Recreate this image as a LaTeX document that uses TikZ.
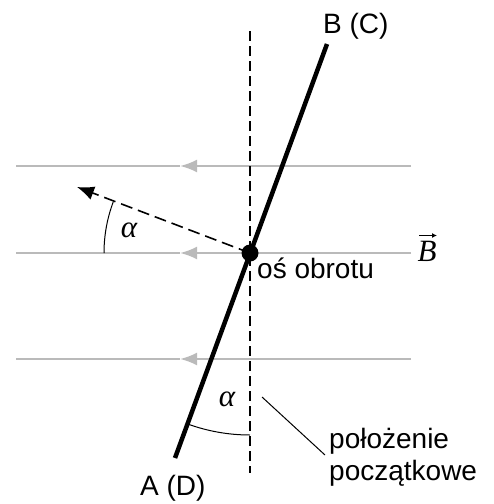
\documentclass[tikz,border=0pt]{standalone}
\usepackage{fontspec}
\setmainfont{Liberation Sans}
\newfontfamily\serifit{Liberation Serif}
\usetikzlibrary{arrows.meta}
\tikzset{
  field/.style={draw=black!27, line width=2.2pt},
  fieldtip/.style={field, -{Latex[length=17pt,width=13pt]}},
  rod/.style={line width=4.5pt},
  axisline/.style={line width=1.6pt, dash pattern=on 10pt off 5pt},
  lbl/.style={font=\fontsize{28}{32}\selectfont, inner sep=0pt},
  greek/.style={font=\fontsize{31}{34}\selectfont\serifit\itshape, inner sep=0pt},
  thin line/.style={line width=1pt}
}
\begin{document}
\begin{tikzpicture}[x=1pt,y=-1pt]
\useasboundingbox (0,0) rectangle (494,504);
% coordinates
\coordinate (O) at (250,253);
\coordinate (Btop) at (327,44);
\coordinate (Abot) at (175,458);
\coordinate (Vtop) at (250,31);
\coordinate (Vbot) at (250,473);
\coordinate (Ntip) at (77,187);
% field lines
\foreach \yy/\nm in {166/f1,253/f2,359/f3}{
  \coordinate (\nm R) at (411,\yy);
  \coordinate (\nm M) at (180,\yy);
  \coordinate (\nm L) at (16,\yy);
  \draw[field] (\nm M) -- (\nm L);
  \draw[fieldtip] (\nm R) -- (\nm M);
}
% vertical dashed initial position
\draw[axisline] (Vtop) -- (Vbot);
% rod
\draw[rod] (Abot) -- (Btop);
% dashed normal arrow
\draw[line width=1.6pt, dash pattern=on 12pt off 6pt, -{Latex[length=17pt,width=14pt]}] (O) -- (Ntip);
% pivot
\fill (O) circle (8.5);
% angle arcs
\draw[thin line] (O) ++(180:146) arc[start angle=180, end angle=200.6, radius=146];
\draw[thin line] (O) ++(110.1:182) arc[start angle=110.1, end angle=90, radius=182];
% alpha labels
\node[greek] (a1) at (129,230) {α};
\node[greek] (a2) at (227,399) {α};
% B vector
\node[greek, anchor=base] (Bv) at (427,261) {B};
\draw[line width=1pt, -{Latex[length=5pt,width=5pt]}] ([xshift=-8pt,yshift=5pt]Bv.north) -- ([xshift=10pt,yshift=5pt]Bv.north);
% labels
\node[lbl, anchor=base west] (os) at (257,278) {oś obrotu};
\node[lbl, anchor=base west] (BC) at (323,33) {B (C)};
\node[lbl, anchor=base west] (AD) at (140,495) {A (D)};
\node[lbl, anchor=base west] (pol1) at (329,448) {położenie};
\node[lbl, anchor=base west] (pol2) at (329,480) {początkowe};
% leader
\coordinate (Lstart) at (262,397);
\coordinate (Lend) at (325,455);
\draw[thin line] (Lstart) -- (Lend);
\end{tikzpicture}
\end{document}
